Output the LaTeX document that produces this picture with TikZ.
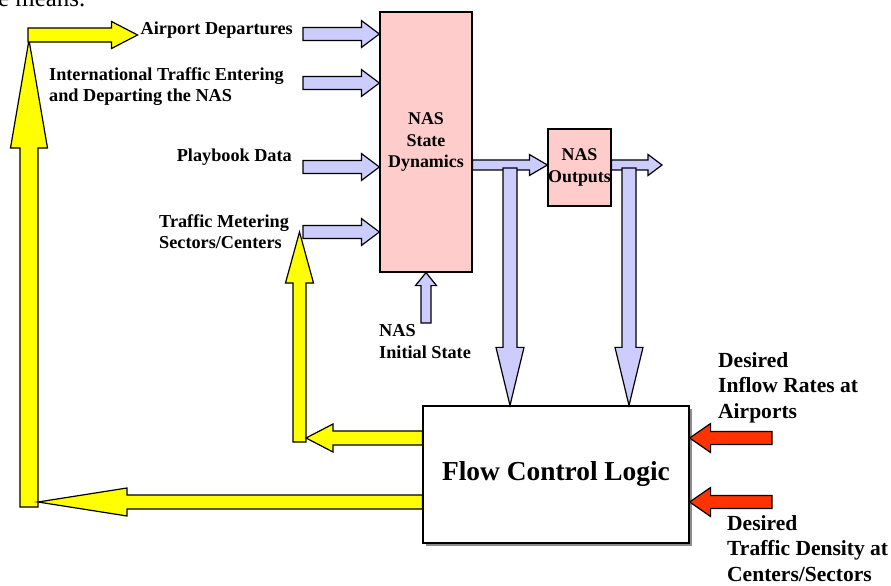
\documentclass[tikz,border=0pt]{standalone}
\usepackage{fontspec}
\setmainfont{Liberation Serif}
\usetikzlibrary{calc,positioning,shadows}

\definecolor{nasblue}{HTML}{CCCCFF}
\definecolor{naspink}{HTML}{FFCCCC}
\definecolor{nasyellow}{HTML}{FFFF00}
\definecolor{nasred}{HTML}{FF3300}

% block arrow: [style]{from}{to}{shaft half width}{head half width}{head length}
\newcommand{\blockarrow}[6][]{%
\coordinate (ba-s) at (#2);
\coordinate (ba-e) at (#3);
\coordinate (ba-h) at ($(ba-e)!#6!(ba-s)$);
\draw[#1] ($(ba-s)!#4!90:(ba-e)$) -- ($(ba-h)!#4!-90:(ba-s)$) -- ($(ba-h)!#5!-90:(ba-s)$) -- (ba-e)
 -- ($(ba-h)!#5!90:(ba-s)$) -- ($(ba-h)!#4!90:(ba-s)$) -- ($(ba-s)!#4!-90:(ba-e)$) -- cycle;}

\tikzset{
  nasbox/.style={draw=black,line width=1.2bp,inner sep=0pt,align=center,font=\bfseries\fontsize{18}{21.5}\selectfont},
  naslabel/.style={inner sep=0pt,font=\bfseries\fontsize{18.3}{21.5}\selectfont},
  goallabel/.style={inner sep=0pt,align=left,font=\bfseries\fontsize{21.6}{25.5}\selectfont},
  inarrow/.style={draw=black,line width=1.2bp,fill=nasblue},
  yarrow/.style={draw=black,line width=1.2bp,fill=nasyellow},
  redarrow/.style={draw=black,line width=1.2bp,fill=nasred}
}

\begin{document}
\begin{tikzpicture}[x=1bp,y=-1bp]
\useasboundingbox (0,0) rectangle (891,586);

\node[font=\fontsize{25}{30}\selectfont,anchor=base west,inner sep=0pt] (cut) at (-2,7) {e means.};

% blocks
\node[nasbox,fill=naspink,minimum width=92bp,minimum height=260bp] (sd) at (426,142) {NAS\\State\\Dynamics};
\node[nasbox,fill=naspink,minimum width=63bp,minimum height=77bp] (out) at (579.5,167.5) {NAS\\Outputs};
\node[nasbox,fill=white,minimum width=266bp,minimum height=137bp,font=\bfseries\fontsize{27.5}{32}\selectfont,
  drop shadow={shadow xshift=3bp,shadow yshift=-3bp,fill=black!45,opacity=1}] (fcl) at (556,474.5) {Flow Control Logic};

% labels (base = last line)
\node[naslabel,anchor=base east] (dep) at (293,35) {Airport Departures};
\node[naslabel,align=left,anchor=base west] (intl) at (49,102) {International Traffic Entering\\and Departing the NAS};
\node[naslabel,anchor=base east] (play) at (292,162) {Playbook Data};
\node[naslabel,align=left,anchor=base west] (meter) at (159,249) {Traffic Metering\\Sectors/Centers};
\node[naslabel,align=left,anchor=base west] (init) at (379,358) {NAS\\Initial State};
\node[goallabel,anchor=base west] (inflow) at (718,418) {Desired\\Inflow Rates at\\Airports};
\node[goallabel,anchor=base west] (density) at (727,581) {Desired\\Traffic Density at\\Centers/Sectors};

% inputs
\foreach \yy in {34,83,167,232}{
  \blockarrow[inarrow]{303,\yy}{sd.west |- 0,\yy}{6.5bp}{13.5bp}{18bp}
}
\blockarrow[inarrow]{426,323}{sd.south}{5bp}{10.5bp}{13bp}

% outputs
\coordinate (nasout) at (662,165);
\blockarrow[inarrow]{sd.east |- 0,165}{out.west |- 0,165}{5bp}{10.5bp}{18bp}
\blockarrow[inarrow]{out.east |- 0,165}{nasout}{5bp}{10.5bp}{14bp}
\blockarrow[inarrow]{510,168}{fcl.north -| 510,0}{7bp}{14bp}{58bp}
\blockarrow[inarrow]{629,168}{fcl.north -| 629,0}{7bp}{14bp}{58bp}

% goals
\blockarrow[redarrow]{772,438}{fcl.east |- 0,438}{6.5bp}{14.5bp}{21bp}
\blockarrow[redarrow]{772,502}{fcl.east |- 0,502}{6.5bp}{14.5bp}{21bp}

% feedback
\blockarrow[yarrow]{29,507}{29,40}{9bp}{18.5bp}{108bp}
\blockarrow[yarrow]{28,35}{$(dep.base west)+(-3,0)$}{7bp}{13.5bp}{26bp}
\blockarrow[yarrow]{fcl.west |- 0,502}{38,502}{7bp}{14bp}{89bp}
\blockarrow[yarrow]{299.5,442}{299.5,232}{6.5bp}{14bp}{51bp}
\blockarrow[yarrow]{fcl.west |- 0,438}{306,438}{7bp}{14bp}{27bp}

\end{tikzpicture}
\end{document}
